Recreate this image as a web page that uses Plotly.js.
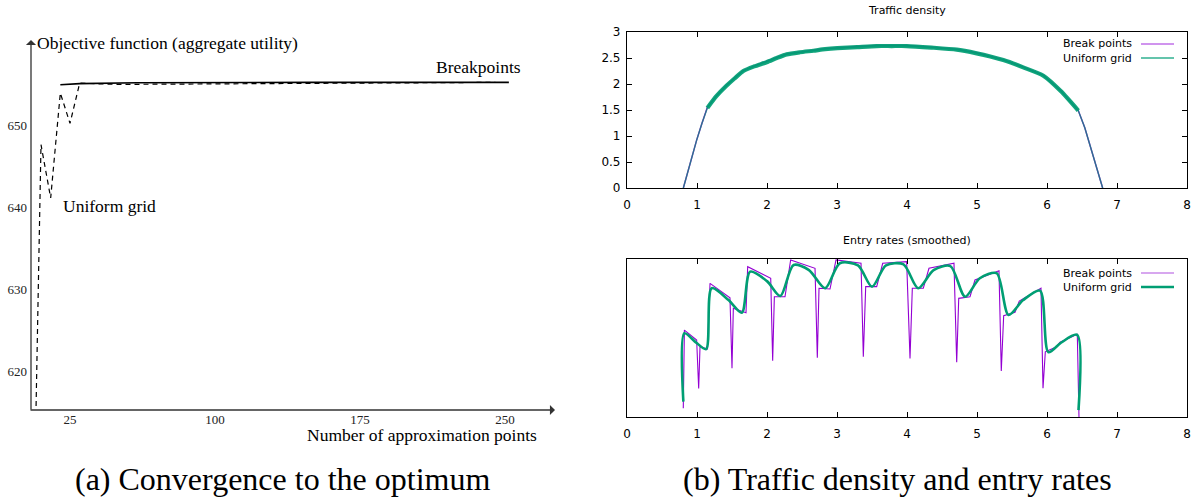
<!DOCTYPE html>
<html>
<head>
<meta charset="utf-8">
<script src="https://cdn.plot.ly/plotly-3.0.1.min.js"></script>
</head>
<body style="margin:0">
<div id="chart" style="width:1204px;height:499px"></div>
<script>
// ---------- (a) Convergence to the optimum ----------
const convBreakX = [20, 30, 60, 100, 150, 200, 252];
const convBreakY = [654.9, 655.05, 655.15, 655.2, 655.2, 655.2, 655.2];
const convUniformX = [5, 10, 15, 20, 25, 30, 50, 100, 150, 200, 245];
const convUniformY = [585, 647.6, 641.1, 653.9, 650.2, 655.1, 654.95, 655.0, 655.1, 655.15, 655.2];
const convXTicks = [25, 100, 175, 250];
const convYTicks = [620, 630, 640, 650];

// ---------- (b) top: traffic density ----------
const densX = [0.805, 0.9, 0.995, 1.07, 1.148, 1.28, 1.424, 1.54, 1.662, 1.82, 1.995, 2.14, 2.281, 2.47, 2.662, 2.83, 3.005, 3.29, 3.567, 3.78, 3.995, 4.35, 4.71, 4.995, 5.19, 5.376, 5.66, 5.948, 6.2, 6.447, 6.54, 6.624, 6.71, 6.795];
const densBreakY = [0, 0.47, 0.92, 1.24, 1.55, 1.78, 1.98, 2.12, 2.26, 2.35, 2.43, 2.51, 2.58, 2.62, 2.65, 2.68, 2.70, 2.72, 2.74, 2.74, 2.74, 2.71, 2.67, 2.60, 2.54, 2.47, 2.33, 2.17, 1.87, 1.49, 1.16, 0.79, 0.40, 0];
const densUniformY = [0, 0.47, 0.92, 1.24, 1.54, 1.77, 1.97, 2.11, 2.25, 2.34, 2.42, 2.50, 2.57, 2.61, 2.64, 2.67, 2.69, 2.71, 2.73, 2.73, 2.73, 2.70, 2.66, 2.59, 2.53, 2.46, 2.32, 2.16, 1.86, 1.49, 1.16, 0.79, 0.40, 0];
const densBandX = [1.148, 1.28, 1.424, 1.54, 1.662, 1.82, 1.995, 2.14, 2.281, 2.47, 2.662, 2.83, 3.005, 3.29, 3.567, 3.78, 3.995, 4.35, 4.71, 4.995, 5.19, 5.376, 5.66, 5.948, 6.2, 6.447];
const densBandY = [1.54, 1.77, 1.97, 2.11, 2.25, 2.34, 2.42, 2.50, 2.57, 2.61, 2.64, 2.67, 2.69, 2.71, 2.73, 2.73, 2.73, 2.70, 2.66, 2.59, 2.53, 2.46, 2.32, 2.16, 1.86, 1.49];
const densXTicks = [0, 1, 2, 3, 4, 5, 6, 7, 8];
const densYTicks = [0, 0.5, 1, 1.5, 2, 2.5, 3];
const densYTickText = ["0", "0.5", "1", "1.5", "2", "2.5", "3"];

// ---------- (b) bottom: entry rates (smoothed) ----------
const rateBreakX = [0.804, 0.82, 0.995, 1.024, 1.043, 1.15, 1.186, 1.471, 1.50, 1.519, 1.70, 1.724, 2.053, 2.081, 2.105, 2.257, 2.338, 2.686, 2.719, 2.743, 2.90, 2.986, 3.343, 3.376, 3.41, 3.567, 3.653, 3.995, 4.043, 4.076, 4.233, 4.314, 4.671, 4.71, 4.739, 4.90, 4.971, 5.314, 5.347, 5.381, 5.543, 5.604, 5.914, 5.943, 5.976, 6.138, 6.186, 6.433, 6.457];
const rateBreakY = [0.055, 0.55, 0.487, 0.18, 0.445, 0.43, 0.846, 0.755, 0.308, 0.688, 0.66, 0.951, 0.878, 0.356, 0.761, 0.761, 0.994, 0.941, 0.375, 0.815, 0.81, 0.994, 0.973, 0.382, 0.825, 0.825, 0.973, 0.983, 0.371, 0.815, 0.815, 0.941, 0.973, 0.346, 0.751, 0.761, 0.867, 0.926, 0.291, 0.641, 0.662, 0.734, 0.815, 0.182, 0.413, 0.445, 0.473, 0.523, 0.0];
const rateUniformX = [0.805, 0.82, 0.99, 1.13, 1.21, 1.45, 1.64, 1.76, 2.0, 2.19, 2.38, 2.6, 2.83, 3.04, 3.3, 3.5, 3.7, 3.95, 4.16, 4.38, 4.62, 4.83, 5.04, 5.28, 5.45, 5.66, 5.9, 6.02, 6.2, 6.43, 6.45];
const rateUniformY = [0.097, 0.53, 0.47, 0.43, 0.815, 0.74, 0.66, 0.92, 0.86, 0.766, 0.962, 0.93, 0.815, 0.973, 0.96, 0.825, 0.96, 0.966, 0.815, 0.93, 0.955, 0.761, 0.878, 0.91, 0.646, 0.74, 0.8, 0.41, 0.47, 0.52, 0.044];

const PURPLE = '#9400d3';
const GREEN = '#009e73';
const SERIF = 'Liberation Serif';
const SANS = 'DejaVu Sans';
const W = 1204, H = 499;
const px = v => v / W;
const py = v => 1 - v / H;

const traces = [
  {x: convUniformX, y: convUniformY, xaxis: 'x', yaxis: 'y', mode: 'lines', name: 'Uniform grid',
   line: {color: '#000', width: 1.2, dash: '5px,4px'}},
  {x: convBreakX, y: convBreakY, xaxis: 'x', yaxis: 'y', mode: 'lines', name: 'Breakpoints',
   line: {color: '#000', width: 1.6}},

  {x: densX, y: densBreakY, xaxis: 'x2', yaxis: 'y2', mode: 'lines', name: 'Break points',
   line: {color: PURPLE, width: 1.4}},
  {x: densX, y: densUniformY, xaxis: 'x2', yaxis: 'y2', mode: 'lines', name: 'Uniform grid',
   line: {color: GREEN, width: 1.4}, opacity: 0.7},
  {x: densBandX, y: densBandY, xaxis: 'x2', yaxis: 'y2', mode: 'lines', name: 'Uniform grid (oscillation)',
   line: {color: GREEN, width: 4.2, shape: 'spline', smoothing: 0.6}, opacity: 0.92, showlegend: false},

  {x: rateBreakX, y: rateBreakY, xaxis: 'x3', yaxis: 'y3', mode: 'lines', name: 'Break points',
   line: {color: PURPLE, width: 1.1}},
  {x: rateUniformX, y: rateUniformY, xaxis: 'x3', yaxis: 'y3', mode: 'lines', name: 'Uniform grid',
   line: {color: GREEN, width: 2.6, shape: 'spline', smoothing: 0.8}}
];

const rightX0 = px(627), rightX1 = px(1187);
const boxAxis = {
  showline: true, linecolor: '#000', linewidth: 1.2, mirror: 'ticks',
  ticks: 'inside', ticklen: 5, tickwidth: 1, tickcolor: '#000',
  showgrid: false, zeroline: false,
  tickfont: {family: SANS, size: 12, color: '#000'}
};

function label(x, y, text, xanchor, fam, size) {
  return {xref: 'paper', yref: 'paper', x: px(x), y: py(y), xanchor: xanchor, yanchor: 'middle',
          showarrow: false, text: text, font: {family: fam, size: size, color: '#000'}};
}

const layout = {
  width: W, height: H,
  font: {family: SERIF, color: '#000'},
  margin: {l: 0, r: 0, t: 0, b: 0},
  paper_bgcolor: '#fff', plot_bgcolor: 'rgba(0,0,0,0)',
  showlegend: false,
  xaxis: {
    domain: [px(31), px(548)], range: [25 - 39 / 1.9333, 25 + (548 - 70) / 1.9333],
    showline: false, showgrid: false, zeroline: false, ticks: '',
    tickvals: convXTicks, ticktext: convXTicks.map(String),
    tickfont: {family: SERIF, size: 13, color: '#222'}
  },
  yaxis: {
    domain: [py(410), py(45)], range: [620 - 39 / 8.2, 650 + 80 / 8.2],
    showline: false, showgrid: false, zeroline: false, ticks: '',
    tickvals: convYTicks, ticktext: convYTicks.map(String), ticklabelstandoff: 3,
    tickfont: {family: SERIF, size: 13, color: '#222'}
  },
  xaxis2: Object.assign({}, boxAxis, {domain: [rightX0, rightX1], range: [0, 8], anchor: 'y2',
    tickvals: densXTicks, ticktext: densXTicks.map(String), ticklabelstandoff: 5}),
  yaxis2: Object.assign({}, boxAxis, {domain: [py(188), py(32)], range: [0, 3], anchor: 'x2',
    tickvals: densYTicks, ticktext: densYTickText, ticklabelstandoff: 3}),
  xaxis3: Object.assign({}, boxAxis, {domain: [rightX0, rightX1], range: [0, 8], anchor: 'y3',
    tickvals: densXTicks, ticktext: densXTicks.map(String), ticklabelstandoff: 5}),
  yaxis3: Object.assign({}, boxAxis, {domain: [py(417), py(259)], range: [0, 1], anchor: 'x3',
    ticks: '', showticklabels: false, mirror: true}),
  shapes: [
    {type: 'line', xref: 'paper', yref: 'paper', x0: px(1141), x1: px(1174), y0: py(44), y1: py(44), line: {color: '#c070e8', width: 1.4}},
    {type: 'line', xref: 'paper', yref: 'paper', x0: px(1141), x1: px(1174), y0: py(58), y1: py(58), line: {color: '#30b090', width: 1.4}},
    {type: 'line', xref: 'paper', yref: 'paper', x0: px(1141), x1: px(1174), y0: py(273), y1: py(273), line: {color: '#b050e0', width: 1.1}},
    {type: 'line', xref: 'paper', yref: 'paper', x0: px(1141), x1: px(1174), y0: py(287), y1: py(287), line: {color: GREEN, width: 2.6}}
  ],
  annotations: [
    {xref: 'paper', yref: 'paper', x: px(555), y: py(410), ax: -526, ay: 0, text: '', showarrow: true,
     arrowhead: 1, arrowsize: 1.3, arrowwidth: 1.3, arrowcolor: '#333'},
    {xref: 'paper', yref: 'paper', x: px(31), y: py(40), ax: 0, ay: 371, text: '', showarrow: true,
     arrowhead: 1, arrowsize: 1.3, arrowwidth: 1.3, arrowcolor: '#333'},
    label(35, 43, 'Objective function (aggregate utility)', 'left', SERIF, 17.5),
    label(434, 67, 'Breakpoints', 'left', SERIF, 17.5),
    label(61, 206, 'Uniform grid', 'left', SERIF, 17.5),
    label(539, 435, 'Number of approximation points', 'right', SERIF, 17.5),
    label(282, 479, '(a) Convergence to the optimum', 'center', SERIF, 32),
    label(898, 479, '(b) Traffic density and entry rates', 'center', SERIF, 32),
    label(907, 10, 'Traffic density', 'center', SANS, 11),
    label(907, 240, 'Entry rates (smoothed)', 'center', SANS, 11),
    label(1134, 44, 'Break points', 'right', SANS, 11),
    label(1134, 58, 'Uniform grid', 'right', SANS, 11),
    label(1134, 273, 'Break points', 'right', SANS, 11),
    label(1134, 287, 'Uniform grid', 'right', SANS, 11)
  ]
};

Plotly.newPlot('chart', traces, layout, {displayModeBar: false});
</script>
</body>
</html>
